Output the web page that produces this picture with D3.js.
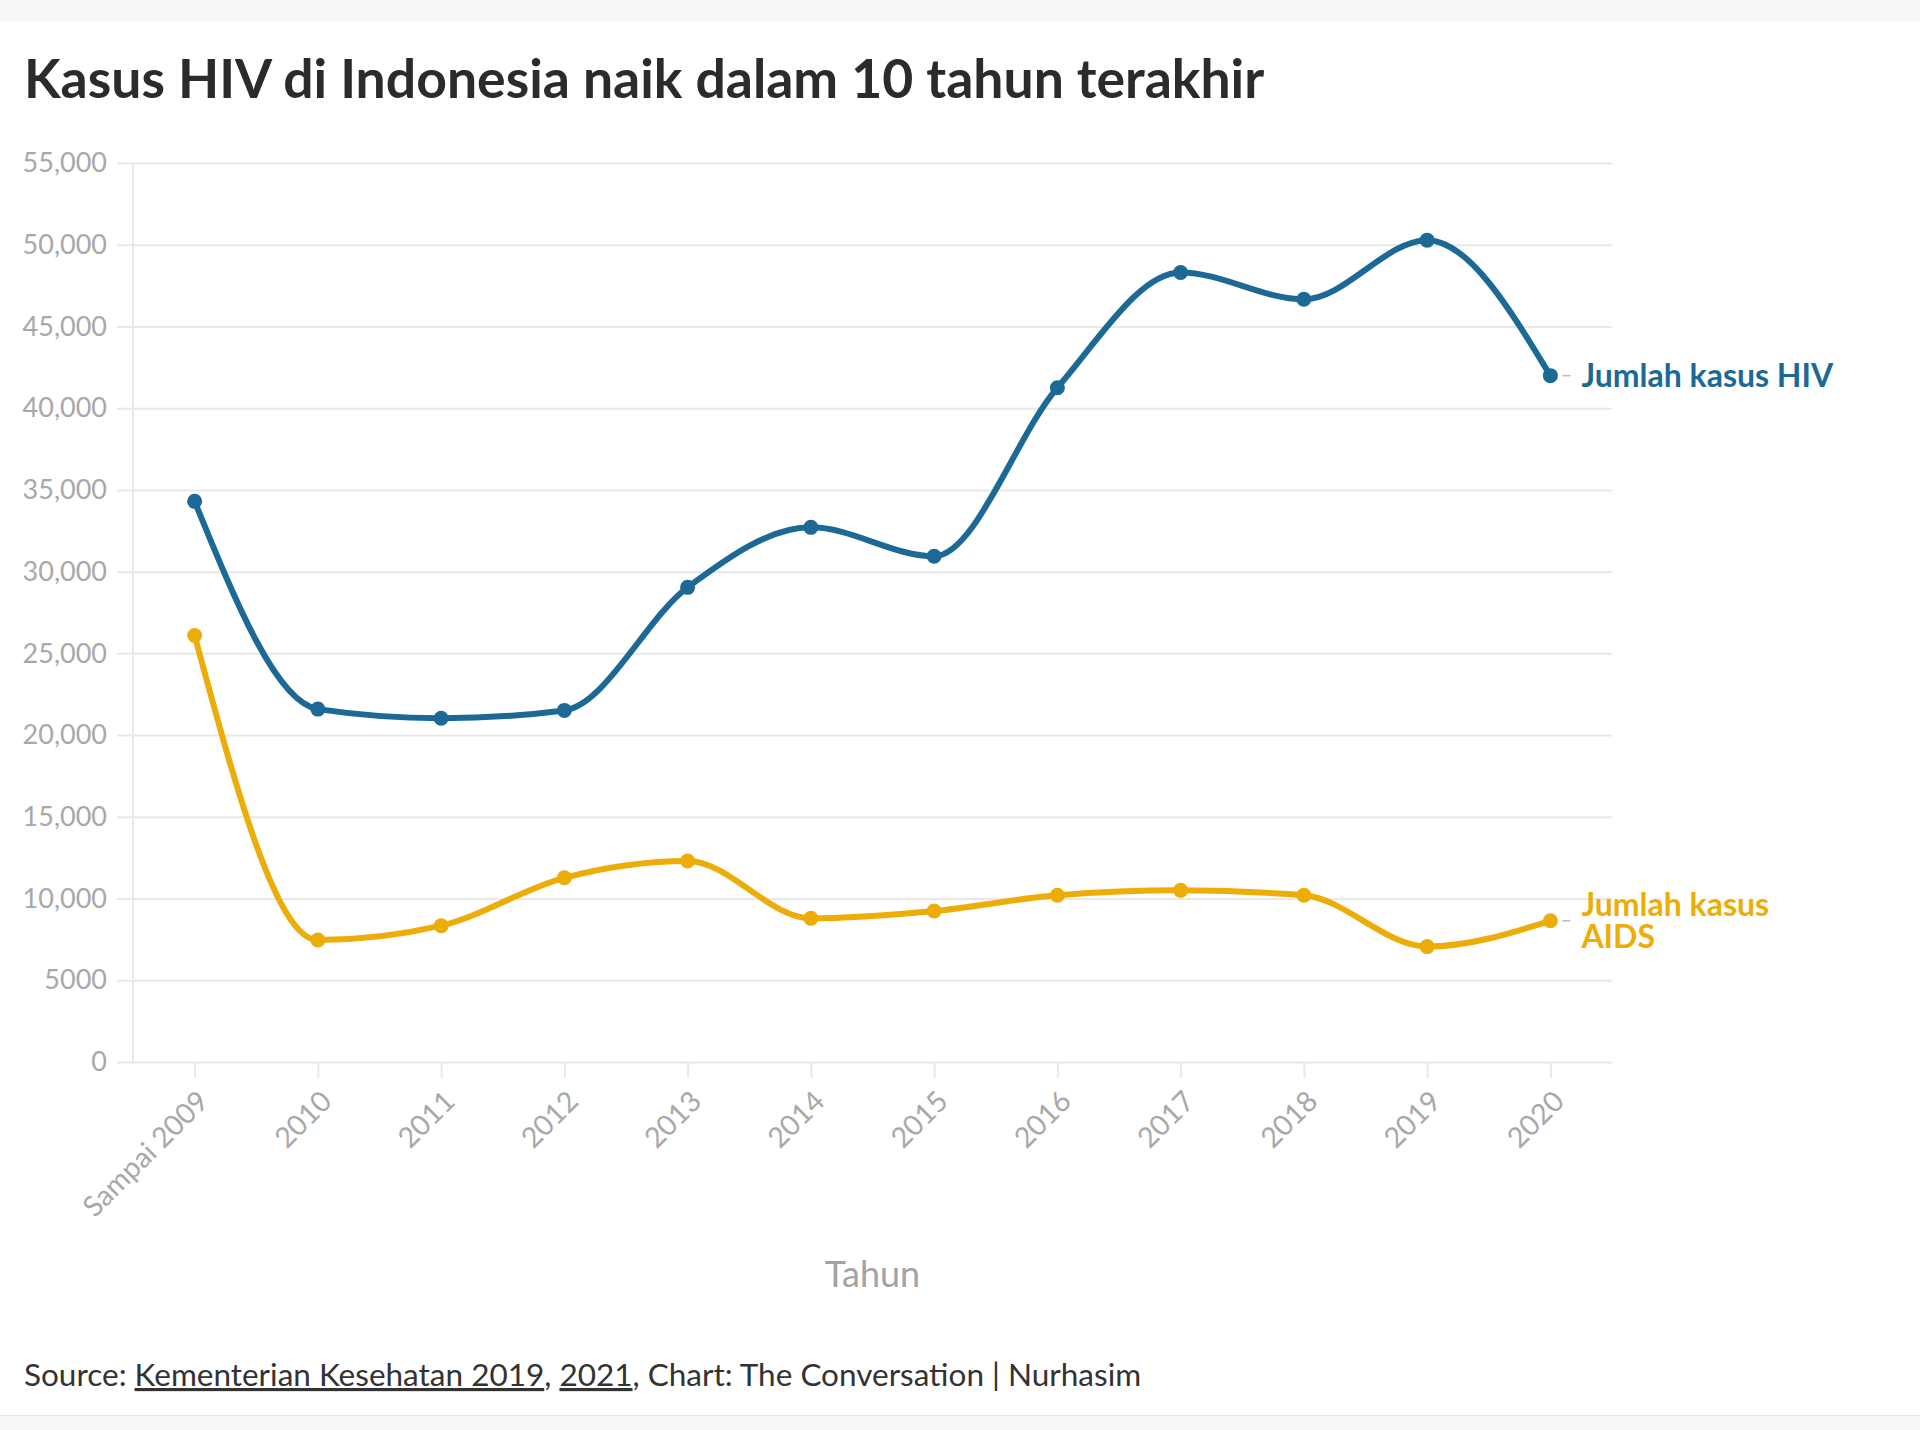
<!DOCTYPE html>
<html>
<head>
<meta charset="utf-8">
<script src="https://cdn.jsdelivr.net/npm/d3@7"></script>
<style>
   body { margin: 0; background: #fff; }
   svg { display: block; font-family: Lato, "Noto Sans", sans-serif; }
</style>
</head>
<body>
<script>
"use strict"

// years on the x axis
const years = ['Sampai 2009', '2010', '2011', '2012', '2013', '2014', '2015', '2016', '2017', '2018', '2019', '2020']
// Jumlah kasus HIV
const hiv = [34300, 21590, 21030, 21510, 29040, 32710, 30940, 41250, 48300, 46660, 50280, 41990]
// Jumlah kasus AIDS
const aids = [26090, 7460, 8340, 11270, 12300, 8790, 9240, 10200, 10500, 10200, 7060, 8640]
const y_ticks = [0, 5000, 10000, 15000, 20000, 25000, 30000, 35000, 40000, 45000, 50000, 55000]

const w = 1920
const h = 1430
const left = 133
const right = 1612
const top_y = 163
const bottom_y = 1062
const grey = '#a8a8a8'
const blue = '#1D6996'
const yellow = '#EDAD08'

const x_scale = d3.scalePoint(years, [left, right]).padding(0.5)
const y_scale = d3.scaleLinear([0, 55000], [bottom_y, top_y])

let svg = d3.select('body')
   .append('svg')
      .attr('width', w)
      .attr('height', h)

// grey bands top and bottom
svg.append('rect')
   .attr('width', w)
   .attr('height', 21)
   .attr('fill', '#f7f7f7')
svg.append('rect')
   .attr('y', 1415)
   .attr('width', w)
   .attr('height', 15)
   .attr('fill', '#f7f7f7')
svg.append('line')
   .attr('x1', 0).attr('x2', w)
   .attr('y1', 1415.5).attr('y2', 1415.5)
   .attr('stroke', '#e6e6e6')

svg.append('text')
   .attr('x', 24)
   .attr('y', 98)
   .attr('font-size', 53.5)
   .attr('font-weight', 700)
   .attr('fill', '#2b2b2b')
   .text('Kasus HIV di Indonesia naik dalam 10 tahun terakhir')

// y axis sits on the right edge so its ticks become the gridlines
const y_axis = d3.axisLeft(y_scale)
   .tickValues(y_ticks)
   .tickSize(right - 117)
   .tickPadding(10)
   .tickFormat(d => d >= 10000 ? d3.format(',')(d) : d)

let y_g = svg.append('g')
   .attr('transform', `translate(${right}, 0)`)
   .call(y_axis)
y_g.select('.domain').remove()
y_g.selectAll('line').attr('stroke', '#e8e8e8').attr('stroke-width', 2)
y_g.selectAll('text')
   .attr('fill', grey)
   .attr('font-size', 27)
   .attr('font-family', 'Lato, sans-serif')

svg.append('line')
   .attr('x1', left).attr('x2', left)
   .attr('y1', top_y).attr('y2', bottom_y)
   .attr('stroke', '#e8e8e8')
   .attr('stroke-width', 2)

const x_axis = d3.axisBottom(x_scale).tickSize(16).tickPadding(0)

let x_g = svg.append('g')
   .attr('transform', `translate(0, ${bottom_y})`)
   .call(x_axis)
x_g.select('.domain').remove()
x_g.selectAll('line').attr('stroke', '#e8e8e8').attr('stroke-width', 2)
x_g.selectAll('text')
   .attr('fill', grey)
   .attr('font-size', 28.5)
   .attr('font-family', 'Lato, sans-serif')
   .attr('text-anchor', 'end')
   .attr('y', 0)
   .attr('dy', '0.35em')
   .attr('transform', 'translate(8, 34) rotate(-45)')

svg.append('text')
   .attr('x', (left + right) / 2)
   .attr('y', 1287)
   .attr('text-anchor', 'middle')
   .attr('font-size', 36)
   .attr('fill', '#a3a3a3')
   .text('Tahun')

const line = d3.line()
   .x((d, i) => x_scale(years[i]))
   .y(d => y_scale(d))
   .curve(d3.curveMonotoneX)

const series = [
   {name: ['Jumlah kasus HIV'], values: hiv, color: blue},
   {name: ['Jumlah kasus', 'AIDS'], values: aids, color: yellow}
]

series.forEach(s => {
   svg.append('path')
      .datum(s.values)
      .attr('d', line)
      .attr('fill', 'none')
      .attr('stroke', s.color)
      .attr('stroke-width', 6)

   svg.selectAll(null)
      .data(s.values)
      .enter()
      .append('circle')
         .attr('cx', (d, i) => x_scale(years[i]))
         .attr('cy', d => y_scale(d))
         .attr('r', 7.5)
         .attr('fill', s.color)

   const last = s.values[s.values.length - 1]
   const lx = x_scale(years[years.length - 1])
   const ly = y_scale(last)

   svg.append('line')
      .attr('x1', lx + 12).attr('x2', lx + 20)
      .attr('y1', ly).attr('y2', ly)
      .attr('stroke', '#bbb')
      .attr('stroke-width', 1.5)

   // one text per line so the two rows of the AIDS label stay apart
   s.name.forEach((t, i) => {
      svg.append('text')
         .attr('x', lx + 31)
         .attr('y', ly + (i - (s.name.length - 1) / 2) * 32)
         .attr('dy', '0.35em')
         .attr('font-size', 32)
         .attr('font-weight', 700)
         .attr('fill', s.color)
         .text(t)
   })
})

let source = svg.append('text')
   .attr('x', 24)
   .attr('y', 1386)
   .attr('font-size', 31.5)
   .attr('fill', '#333')
source.append('tspan').text('Source: ')
source.append('tspan').attr('text-decoration', 'underline').text('Kementerian Kesehatan 2019')
source.append('tspan').text(', ')
source.append('tspan').attr('text-decoration', 'underline').text('2021')
source.append('tspan').text(', Chart: The Conversation | Nurhasim')
</script>
</body>
</html>
